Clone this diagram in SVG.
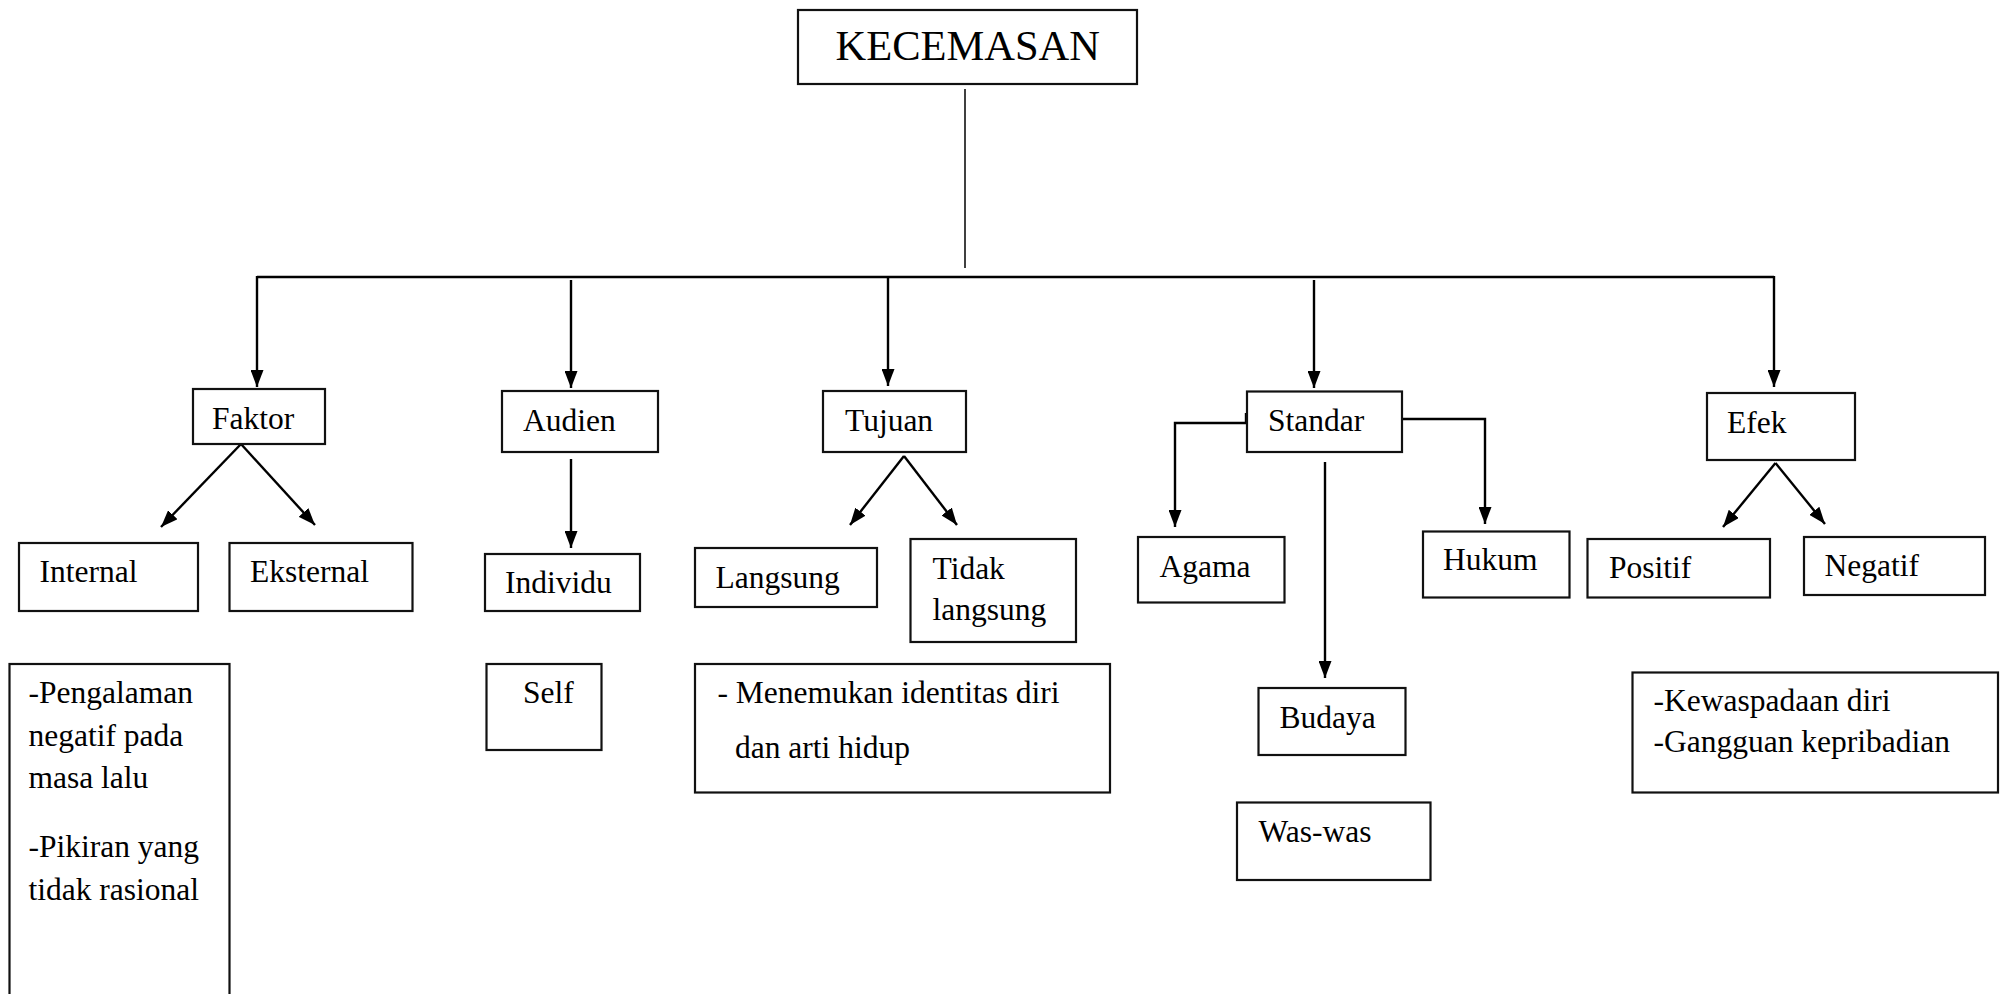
<svg xmlns="http://www.w3.org/2000/svg" width="2000" height="994" viewBox="0 0 2000 994">
  <style>
    .box { fill: #fff; stroke: #111; stroke-width: 2.2; }
    .ln { fill: none; stroke: #000; stroke-width: 2.4; }
    .thin { fill: none; stroke: #000; stroke-width: 1.5; }
    text { font-family: "Liberation Serif", "Times New Roman", serif; font-size: 31.5px; fill: #000; }
    .title { font-size: 42.5px; }
  </style>
  <defs>
    <marker id="arrow" markerUnits="userSpaceOnUse" markerWidth="18" markerHeight="13" refX="17" refY="6.5" orient="auto">
      <path d="M0,0 L17,6.5 L0,13 z" fill="#000"/>
    </marker>
  </defs>
  <rect width="2000" height="994" fill="#fff"/>

  <!-- connectors -->
  <g id="connectors">
    <line class="thin" x1="965" y1="89" x2="965" y2="268"/>
    <line class="ln" x1="257" y1="277" x2="1774" y2="277"/>
    <line class="ln" x1="257" y1="276" x2="257" y2="387" marker-end="url(#arrow)"/>
    <line class="ln" x1="571" y1="280" x2="571" y2="388" marker-end="url(#arrow)"/>
    <line class="ln" x1="888" y1="276" x2="888" y2="386" marker-end="url(#arrow)"/>
    <line class="ln" x1="1314" y1="280" x2="1314" y2="388" marker-end="url(#arrow)"/>
    <line class="ln" x1="1774" y1="276" x2="1774" y2="387" marker-end="url(#arrow)"/>

    <!-- Faktor -->
    <line class="ln" x1="241" y1="444" x2="161" y2="527" marker-end="url(#arrow)"/>
    <line class="ln" x1="241" y1="444" x2="315" y2="525" marker-end="url(#arrow)"/>
    <!-- Audien -->
    <line class="ln" x1="571" y1="459" x2="571" y2="548" marker-end="url(#arrow)"/>
    <!-- Tujuan -->
    <line class="ln" x1="904" y1="456" x2="850" y2="525" marker-end="url(#arrow)"/>
    <line class="ln" x1="904" y1="456" x2="957" y2="525" marker-end="url(#arrow)"/>
    <!-- Standar -->
    <polyline class="ln" points="1246,423 1175,423 1175,527" marker-end="url(#arrow)"/>
    <line class="ln" x1="1246" y1="413" x2="1246" y2="424"/>
    <polyline class="ln" points="1402,419 1485,419 1485,524" marker-end="url(#arrow)"/>
    <line class="ln" x1="1325" y1="462" x2="1325" y2="678" marker-end="url(#arrow)"/>
    <!-- Efek -->
    <line class="ln" x1="1775.5" y1="463" x2="1723" y2="527" marker-end="url(#arrow)"/>
    <line class="ln" x1="1775.5" y1="463" x2="1825" y2="524" marker-end="url(#arrow)"/>
  </g>

  <!-- root -->
  <g id="kecemasan">
    <rect class="box" x="798" y="10" width="339" height="74"/>
    <text class="title" x="835.5" y="59.5">KECEMASAN</text>
  </g>

  <!-- second level -->
  <g id="faktor">
    <rect class="box" x="193" y="389" width="132" height="55"/>
    <text x="212" y="429">Faktor</text>
  </g>
  <g id="audien">
    <rect class="box" x="502" y="391" width="156" height="61"/>
    <text x="523" y="431">Audien</text>
  </g>
  <g id="tujuan">
    <rect class="box" x="823" y="391" width="143" height="61"/>
    <text x="845" y="431">Tujuan</text>
  </g>
  <g id="standar">
    <rect class="box" x="1247" y="391.5" width="155" height="60.5"/>
    <text x="1268" y="431">Standar</text>
  </g>
  <g id="efek">
    <rect class="box" x="1707" y="393" width="148" height="67"/>
    <text x="1727" y="433">Efek</text>
  </g>

  <!-- third level -->
  <g id="internal">
    <rect class="box" x="19" y="543" width="179" height="68"/>
    <text x="39.5" y="582">Internal</text>
  </g>
  <g id="eksternal">
    <rect class="box" x="229.5" y="543" width="183" height="68"/>
    <text x="250" y="582">Eksternal</text>
  </g>
  <g id="individu">
    <rect class="box" x="485" y="554" width="155" height="57"/>
    <text x="505" y="593">Individu</text>
  </g>
  <g id="langsung">
    <rect class="box" x="695" y="548" width="182" height="59"/>
    <text x="715.5" y="588">Langsung</text>
  </g>
  <g id="tidak-langsung">
    <rect class="box" x="910.5" y="539" width="165.5" height="103"/>
    <text x="932.5" y="579">Tidak</text>
    <text x="932.5" y="620">langsung</text>
  </g>
  <g id="agama">
    <rect class="box" x="1138" y="537" width="146.5" height="65.5"/>
    <text x="1159.5" y="576.5">Agama</text>
  </g>
  <g id="hukum">
    <rect class="box" x="1423" y="531.5" width="146.5" height="66"/>
    <text x="1443" y="570">Hukum</text>
  </g>
  <g id="positif">
    <rect class="box" x="1587.5" y="539" width="182.5" height="58.5"/>
    <text x="1609" y="578">Positif</text>
  </g>
  <g id="negatif">
    <rect class="box" x="1804" y="537" width="181" height="58"/>
    <text x="1824.5" y="576">Negatif</text>
  </g>
  <g id="budaya">
    <rect class="box" x="1258.5" y="688" width="147" height="67"/>
    <text x="1279.5" y="727.5">Budaya</text>
  </g>

  <!-- details -->
  <g id="internal-detail">
    <rect class="box" x="9.5" y="664" width="220" height="360"/>
    <text x="28.5" y="703">-Pengalaman</text>
    <text x="28.5" y="746">negatif pada</text>
    <text x="28.5" y="788">masa lalu</text>
    <text x="28.5" y="857">-Pikiran yang</text>
    <text x="28.5" y="900">tidak rasional</text>
  </g>
  <g id="self">
    <rect class="box" x="486.5" y="664" width="115" height="86"/>
    <text x="523" y="703">Self</text>
  </g>
  <g id="tujuan-detail">
    <rect class="box" x="695" y="664" width="415" height="128.5"/>
    <text x="717.5" y="703">- Menemukan identitas diri</text>
    <text x="735" y="758">dan arti hidup</text>
  </g>
  <g id="was-was">
    <rect class="box" x="1237" y="802.5" width="193.5" height="77.5"/>
    <text x="1258.5" y="841.5">Was-was</text>
  </g>
  <g id="efek-detail">
    <rect class="box" x="1632.5" y="672.5" width="365.5" height="120"/>
    <text x="1653.5" y="710.5">-Kewaspadaan diri</text>
    <text x="1653.5" y="751.5">-Gangguan kepribadian</text>
  </g>
</svg>
